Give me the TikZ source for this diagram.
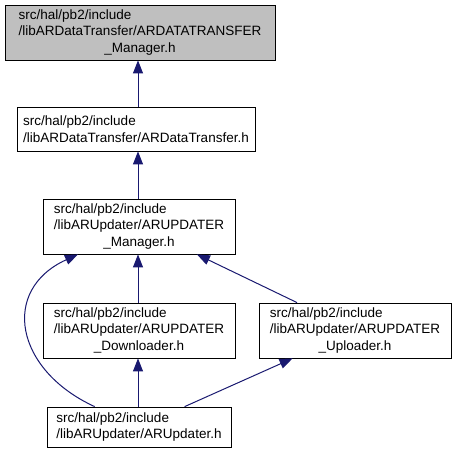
\documentclass[tikz,border=0pt]{standalone}
\usepackage{fontspec}
\setmainfont{Liberation Sans}
\usetikzlibrary{arrows.meta}
\definecolor{depblue}{HTML}{191970}
\definecolor{curgray}{HTML}{BFBFBF}
\newcommand{\hdrname}[3]{\begin{tabular}{@{}l@{}}#1\\#2\\\multicolumn{1}{@{}c@{}}{#3}\end{tabular}}
\tikzset{
    dep/.style={draw=depblue, line width=1pt, -{Triangle[length=13pt, width=10pt]}}
}
\begin{document}
\begin{tikzpicture}[x=1pt, y=-1pt]
    \useasboundingbox (0, 0) rectangle (456, 453);
    \begin{scope}[every node/.style={rectangle, draw, line width=0.8pt, inner sep=0pt,
        font=\fontsize{13.5}{16.5}\selectfont}]
      \node[fill=curgray, minimum width=270pt, minimum height=55pt] (dtm) at (140, 32.5)
          {\hdrname{src/hal/pb2/include}{/libARDataTransfer/ARDATATRANSFER}{\_Manager.h}};
      \node[align=left, minimum width=238pt, minimum height=44pt] (dt) at (136, 129)
          {src/hal/pb2/include\\/libARDataTransfer/ARDataTransfer.h};
      \node[minimum width=192pt, minimum height=55pt] (upm) at (139, 226.5)
          {\hdrname{src/hal/pb2/include}{/libARUpdater/ARUPDATER}{\_Manager.h}};
      \node[minimum width=192pt, minimum height=55pt] (down) at (139, 330.5)
          {\hdrname{src/hal/pb2/include}{/libARUpdater/ARUPDATER}{\_Downloader.h}};
      \node[minimum width=192pt, minimum height=55pt] (up) at (355, 330.5)
          {\hdrname{src/hal/pb2/include}{/libARUpdater/ARUPDATER}{\_Uploader.h}};
      \node[align=left, minimum width=184pt, minimum height=40pt] (upd) at (139, 427)
          {src/hal/pb2/include\\/libARUpdater/ARUpdater.h};
    \end{scope}

    \draw[dep] (dt.north -| 138, 0) -- (dtm.south -| 138, 0);
    \draw[dep] (upm.north -| 138, 0) -- (dt.south -| 138, 0);
    \draw[dep] (down.north -| 138, 0) -- (upm.south -| 138, 0);
    \draw[dep] (up) -- (upm);
    \draw[dep] (upd) .. controls (15, 370) and (0, 290) .. (upm);
    \draw[dep] (upd.north -| 138, 0) -- (down.south -| 138, 0);
    \draw[dep] (upd) -- (up);
\end{tikzpicture}
\end{document}
